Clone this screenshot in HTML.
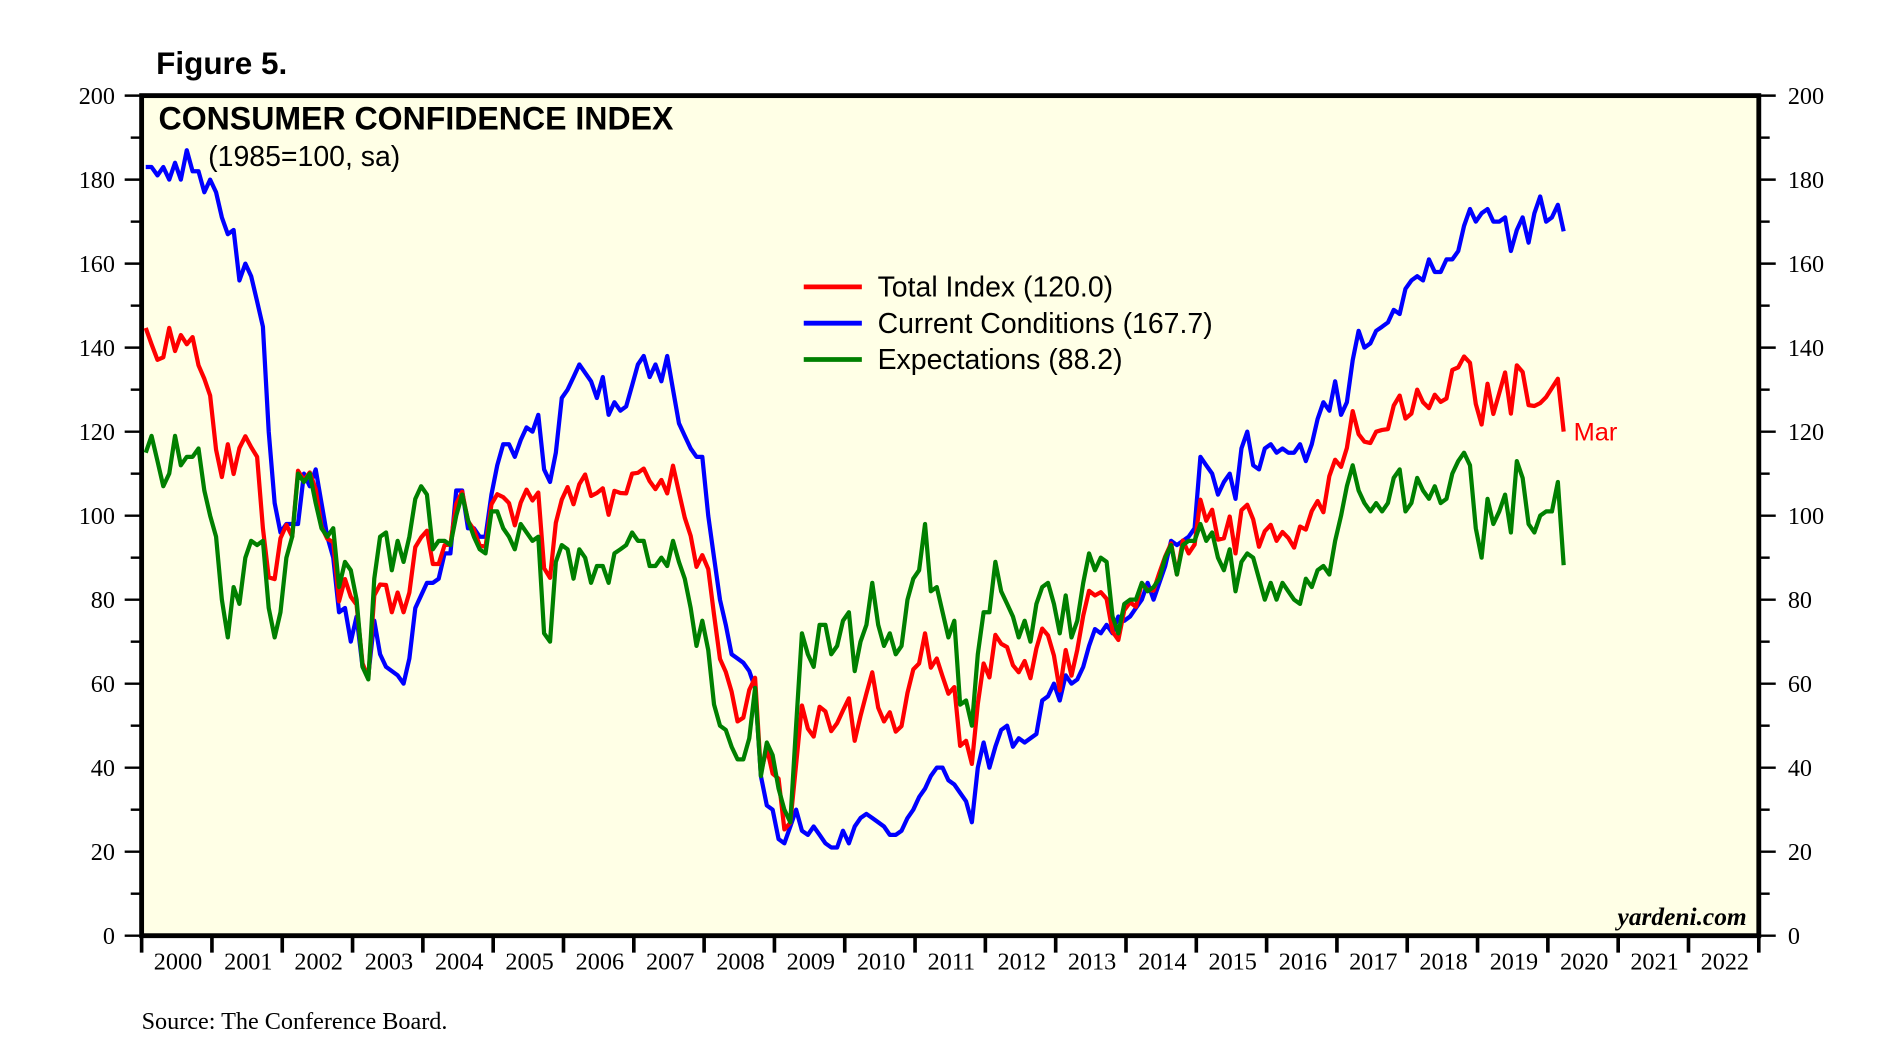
<!DOCTYPE html>
<html><head><meta charset="utf-8"><style>
html,body{margin:0;padding:0;background:#fff;width:1898px;height:1064px;overflow:hidden}
svg{display:block}
</style></head><body>
<svg id="chart" width="1898" height="1064" viewBox="0 0 1568 879" preserveAspectRatio="none" xmlns="http://www.w3.org/2000/svg">
<text x="129" y="61" font-family="Liberation Sans, sans-serif" font-weight="bold" font-size="26">Figure 5.</text>
<rect x="117" y="79" width="1336" height="694" fill="#ffffe6" stroke="#000" stroke-width="4"/>
<g id="axes"></g>
<g id="series"></g>
<text x="131" y="107" font-family="Liberation Sans, sans-serif" font-weight="bold" font-size="26.5">CONSUMER CONFIDENCE INDEX</text>
<text x="172" y="137" font-family="Liberation Sans, sans-serif" font-size="23.5">(1985=100, sa)</text>
<g font-family="Liberation Sans, sans-serif" font-size="23.5">
<line x1="664" y1="237" x2="712" y2="237" stroke="#ff0000" stroke-width="4"/>
<text x="725" y="245">Total Index (120.0)</text>
<line x1="664" y1="267" x2="712" y2="267" stroke="#0000ff" stroke-width="4"/>
<text x="725" y="275">Current Conditions (167.7)</text>
<line x1="664" y1="297" x2="712" y2="297" stroke="#008000" stroke-width="4"/>
<text x="725" y="305">Expectations (88.2)</text>
</g>
<text x="1300" y="364" font-family="Liberation Sans, sans-serif" font-size="21" fill="#ff0000">Mar</text>
<text x="1443" y="764" text-anchor="end" font-family="Liberation Serif, serif" font-style="italic" font-weight="bold" font-size="21">yardeni.com</text>
<text x="117" y="850" font-family="Liberation Serif, serif" font-size="20">Source: The Conference Board.</text>
</svg>
<script>
const yTicks=[0,20,40,60,80,100,120,140,160,180,200];
const years=[2000,2001,2002,2003,2004,2005,2006,2007,2008,2009,2010,2011,2012,2013,2014,2015,2016,2017,2018,2019,2020,2021,2022];
const totalIndex=[144.7,140.8,137.1,137.7,144.7,139.2,143.0,140.8,142.5,135.8,132.6,128.6,
115.7,109.2,117.0,109.9,116.1,118.9,116.3,114.0,97.0,85.3,84.9,94.6,
97.8,95.0,110.7,108.5,110.3,106.3,97.4,94.5,93.7,79.6,84.9,80.7,
78.8,64.8,61.4,81.0,83.6,83.5,77.0,81.7,77.0,81.7,92.5,94.8,
96.4,88.5,88.5,93.0,93.1,102.8,105.7,98.7,96.7,92.9,92.6,102.7,
105.1,104.4,103.0,97.7,103.1,106.2,103.6,105.5,87.5,85.2,98.3,103.8,
106.8,102.7,107.5,109.8,104.7,105.4,106.5,100.2,105.9,105.4,105.3,110.0,
110.2,111.2,108.2,106.3,108.5,105.3,111.9,105.6,99.5,95.2,87.8,90.6,
87.3,76.4,65.9,62.8,58.1,51.0,51.9,58.5,61.4,38.8,44.7,38.6,
37.4,25.3,26.9,40.8,54.8,49.3,47.4,54.5,53.4,48.7,50.6,53.6,
56.5,46.4,52.3,57.7,62.7,54.3,51.0,53.2,48.6,49.9,57.8,63.4,
64.8,72.0,63.8,66.0,61.7,57.6,59.2,45.2,46.4,40.9,55.2,64.8,
61.5,71.6,69.5,68.7,64.4,62.7,65.4,61.3,68.4,73.1,71.5,66.7,
58.4,68.0,61.9,68.1,76.2,82.1,81.0,81.8,80.2,72.4,70.4,77.5,
79.4,78.3,83.9,82.3,82.2,86.4,90.3,93.4,86.0,94.1,91.0,93.1,
103.8,98.8,101.4,94.3,94.6,99.8,91.0,101.3,102.6,99.1,92.6,96.3,
97.8,94.0,96.1,94.7,92.4,97.4,96.7,101.1,103.5,100.8,109.4,113.3,
111.6,116.1,124.9,119.4,117.6,117.3,120.0,120.4,120.6,126.2,128.6,123.1,
124.3,130.0,127.0,125.6,128.8,127.1,127.9,134.7,135.3,137.9,136.4,126.6,
121.7,131.4,124.2,129.2,134.1,124.3,135.8,134.2,126.3,126.1,126.8,128.2,
130.4,132.6,120.0];
const currentConditions=[183,183,181,183,180,184,180,187,182,182,177,180,
177,171,167,168,156,160,157,151,145,120,103,96,
98,98,98,110,107,111,103,95,90,77,78,70,
76,64,62,75,67,64,63,62,60,66,78,81,
84,84,85,91,91,106,106,97,97,95,95,105,
112,117,117,114,118,121,120,124,111,108,115,128,
130,133,136,134,132,128,133,124,127,125,126,131,
136,138,133,136,132,138,130,122,119,116,114,114,
100,90,80,74,67,66,65,63,59,38,31,30,
23,22,26,30,25,24,26,24,22,21,21,25,
22,26,28,29,28,27,26,24,24,25,28,30,
33,35,38,40,40,37,36,34,32,27,40,46,
40,45,49,50,45,47,46,47,48,56,57,60,
56,62,60,61,64,69,73,72,74,72,76,75,
76,78,80,84,80,84,88,94,93,94,95,97,
114,112,110,105,108,110,104,116,120,112,111,116,
117,115,116,115,115,117,113,117,123,127,125,132,
124,127,137,144,140,141,144,145,146,149,148,154,
156,157,156,161,158,158,161,161,163,169,173,170,
172,173,170,170,171,163,168,171,165,172,176,170,
171,174,167.7];
const expectations=[115,119,113,107,110,119,112,114,114,116,106,100,
95,80,71,83,79,90,94,93,94,78,71,77,
90,95,110,108,110,103,97,95,97,83,89,87,
80,64,61,85,95,96,87,94,89,95,104,107,
105,92,94,94,93,100,105,99,95,92,91,101,
101,97,95,92,98,96,94,95,72,70,89,93,
92,85,92,90,84,88,88,84,91,92,93,96,
94,94,88,88,90,88,94,89,85,78,69,75,
68,55,50,49,45,42,42,47,59,38,46,43,
35,30,27,50,72,67,64,74,74,67,69,75,
77,63,70,74,84,74,69,72,67,69,80,85,
87,98,82,83,77,71,75,55,56,50,67,77,
77,89,82,79,76,71,75,70,79,83,84,79,
72,81,71,75,84,91,87,90,89,76,72,79,
80,80,84,82,83,85,90,93,86,93,94,94,
98,94,96,90,87,92,82,89,91,90,85,80,
84,80,84,82,80,79,85,83,87,88,86,94,
100,107,112,106,103,101,103,101,103,109,111,101,
103,109,106,104,107,103,104,110,113,115,112,97,
90,104,98,101,105,96,113,109,98,96,100,101,
101,108,88.2];

const NS='http://www.w3.org/2000/svg';
const X0=117,X1=1453,Y0=773,Y1=79;
const yearW=(X1-X0)/years.length;
function yScale(v){return Y0-(v/200)*(Y0-Y1);}
function xMonth(i){return X0+(i+0.7)*yearW/12;}
function mk(tag,attrs,parent){const e=document.createElementNS(NS,tag);for(const k in attrs)e.setAttribute(k,attrs[k]);parent.appendChild(e);return e;}
const axes=document.getElementById('axes');
const serif='Liberation Serif, serif';
for(let v=0;v<=200;v+=10){
  const y=yScale(v),major=v%20===0;
  const l=mk('line',{x1:major?103:108,x2:X0,y1:y,y2:y,stroke:'#000','stroke-width':2},axes);
  
  
  const r=mk('line',{x1:X1,x2:major?1467:1462,y1:y,y2:y,stroke:'#000','stroke-width':2},axes);
  
  
}
yTicks.forEach(v=>{
  const y=yScale(v);
  const t=mk('text',{x:95,y:y+7,'text-anchor':'end','font-family':serif,'font-size':20},axes);
  t.textContent=v;
  
  
  const t2=mk('text',{x:1477,y:y+7,'font-family':serif,'font-size':20},axes);
  t2.textContent=v;
  
  
});
years.forEach((yr,i)=>{
  const x=X0+i*yearW;
  const l=mk('line',{x1:x,x2:x,y1:Y0,y2:787,stroke:'#000','stroke-width':3},axes);
  
  
  const t=mk('text',{x:x+yearW/2+1,y:801,'text-anchor':'middle','font-family':serif,'font-size':20},axes);
  t.textContent=yr;
  
  
});
const lx=mk('line',{x1:X1,x2:X1,y1:Y0,y2:787,stroke:'#000','stroke-width':3},axes);


const sg=document.getElementById('series');
function drawLine(arr,color,name){
  const pts=arr.map((v,i)=>xMonth(i).toFixed(1)+','+yScale(v).toFixed(1)).join(' ');
  const p=mk('polyline',{points:pts,fill:'none',stroke:color,'stroke-width':3.5,'stroke-linejoin':'round'},sg);
  
  
}
drawLine(currentConditions,'#0000ff','current-conditions-line');
drawLine(totalIndex,'#ff0000','total-index-line');
drawLine(expectations,'#008000','expectations-line');
</script>
</body></html>
